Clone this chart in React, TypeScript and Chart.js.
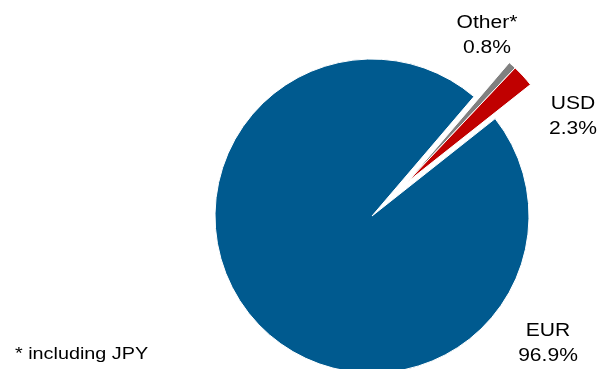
import React, { useEffect, useRef } from "react";
import { Chart, registerables, ArcElement } from "chart.js";

Chart.register(...registerables);

const categories = ["Other*", "USD", "EUR"];
const shares = [0.8, 2.3, 96.9];
const valueLabels = ["0.8%", "2.3%", "96.9%"];
const colors = ["#808080", "#C00000", "#005A8F"];
const exploded = [true, true, false];
const EXPLODE_SHIFT = 49;
const footnote = "* including JPY";

const PIE_RADIUS = 157;
// label anchor positions relative to pie centre (layout only)
const labelDx = [115, 201, 176];
const labelDy = [-193, -112, 115];

const explodePlugin = {
  id: "explodeSlices",
  afterDatasetsUpdate(chart: any) {
    const meta = chart.getDatasetMeta(0);
    const group = meta.data.filter((_: any, i: number) => exploded[i]);
    if (!group.length) return;
    const start = Math.min(...group.map((a: any) => a.startAngle));
    const end = Math.max(...group.map((a: any) => a.endAngle));
    const mid = (start + end) / 2;
    const dx = Math.cos(mid) * EXPLODE_SHIFT;
    const dy = Math.sin(mid) * EXPLODE_SHIFT;
    group.forEach((arc: any) => {
      arc.draw = function (ctx: CanvasRenderingContext2D) {
        ctx.save();
        ctx.translate(dx, dy);
        (ArcElement.prototype as any).draw.call(this, ctx);
        ctx.restore();
      };
    });
  },
};

const labelPlugin = {
  id: "sliceLabels",
  afterDraw(chart: any) {
    const ctx = chart.ctx;
    const arc = chart.getDatasetMeta(0).data[2];
    const cx = arc.x;
    const cy = arc.y;
    ctx.save();
    ctx.fillStyle = "#000";
    ctx.textAlign = "center";
    ctx.textBaseline = "middle";
    categories.forEach((c, i) => {
      const x = cx + labelDx[i];
      const y = cy + labelDy[i];
      ctx.save();
      ctx.translate(x, y);
      ctx.scale(1.17, 1);
      ctx.font = "18px 'Liberation Sans', Arial, sans-serif";
      ctx.fillText(c, 0, 0);
      ctx.fillText(valueLabels[i], 0, 25);
      ctx.restore();
    });
    ctx.save();
    ctx.translate(15, 354);
    ctx.scale(1.2, 1);
    ctx.textAlign = "left";
    ctx.font = "16.5px 'Liberation Sans', Arial, sans-serif";
    ctx.fillText(footnote, 0, 0);
    ctx.restore();
    ctx.restore();
  },
};

export default function App() {
  const ref = useRef<HTMLCanvasElement>(null);
  useEffect(() => {
    if (!ref.current) return;
    const chart = new Chart(ref.current, {
      type: "pie",
      data: {
        labels: categories,
        datasets: [
          {
            data: shares,
            backgroundColor: colors,
            borderColor: "#ffffff",
            borderWidth: 1,
            clip: false,
          } as any,
        ],
      },
      options: {
        animation: false,
        responsive: false,
        rotation: 40.5,
        radius: PIE_RADIUS,
        layout: { padding: { left: 144, right: 0, top: 63, bottom: 0 } },
        plugins: {
          legend: { display: false },
          tooltip: { enabled: false },
        },
      } as any,
      plugins: [explodePlugin, labelPlugin],
    });
    return () => chart.destroy();
  }, []);
  return (
    <div style={{ position: "absolute", left: 0, top: 0, width: 600, height: 369, background: "#fff" }}>
      <canvas ref={ref} width={600} height={369} style={{ display: "block" }} />
    </div>
  );
}
